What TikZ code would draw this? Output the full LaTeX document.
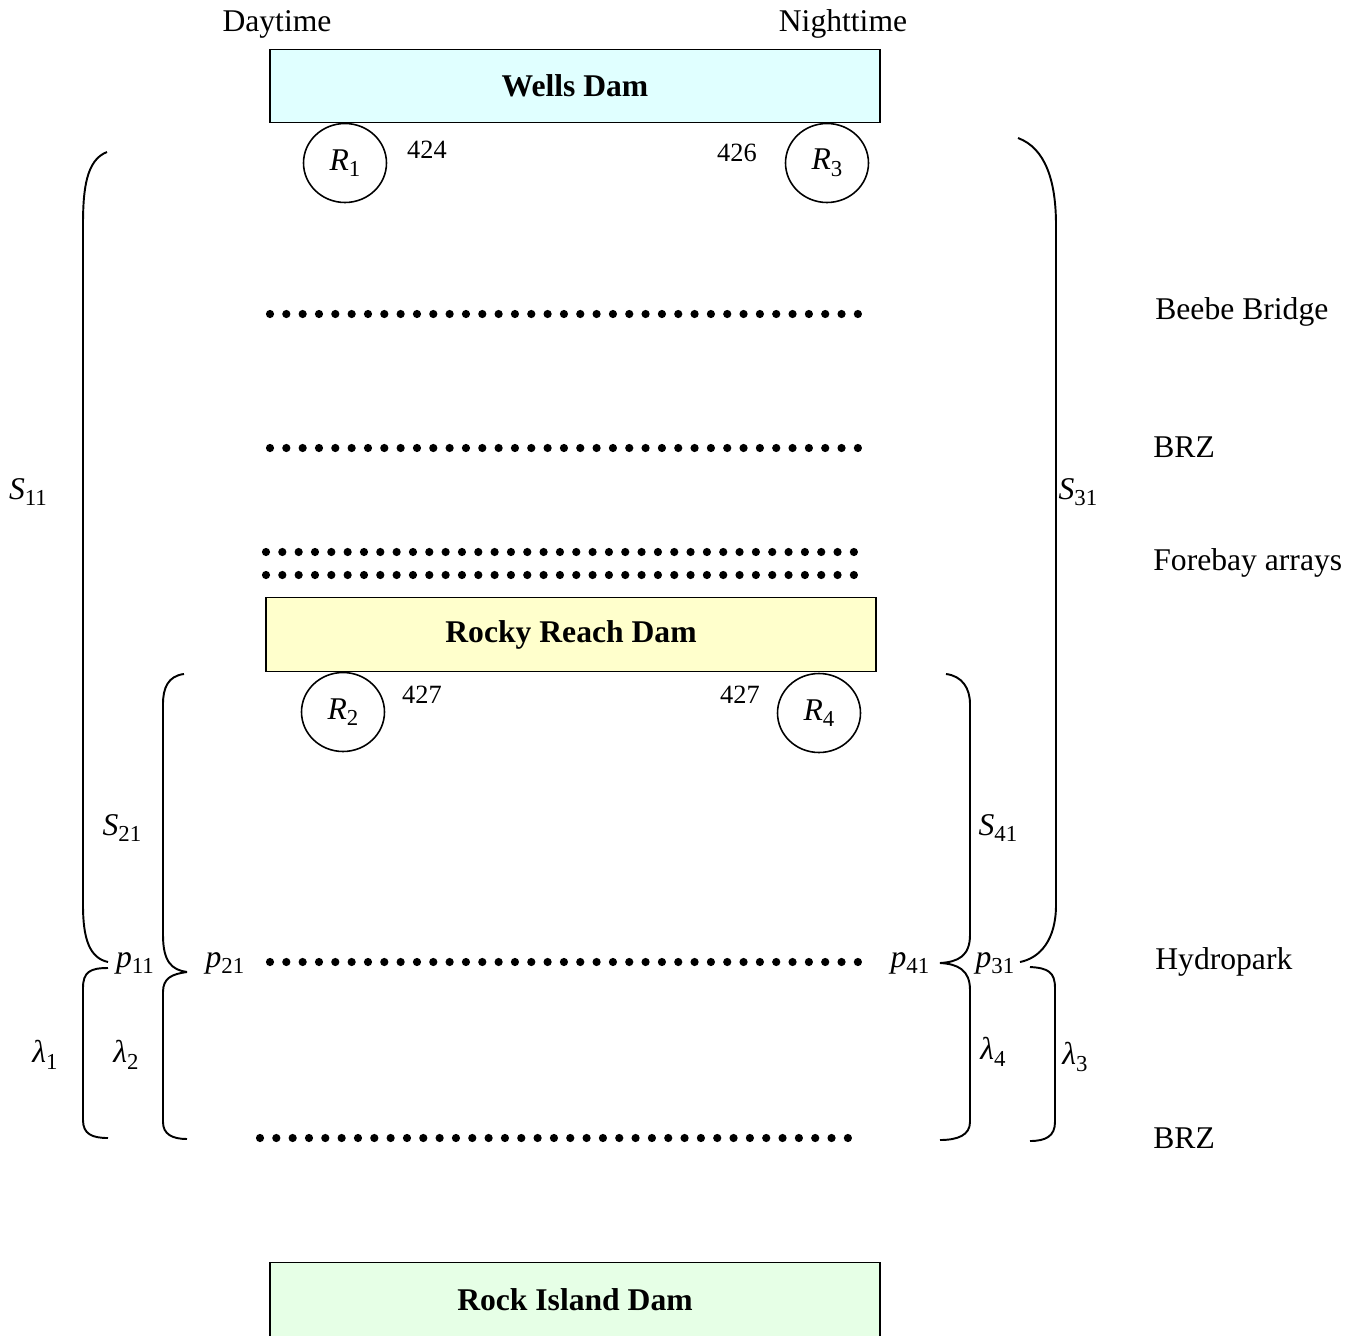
\documentclass[tikz,border=0pt]{standalone}
\usepackage{fontspec}
\setmainfont{Liberation Serif}
\usetikzlibrary{shapes.geometric}

\newcommand{\sym}[2]{\textit{#1}\raisebox{-0.45ex}{\fontsize{13}{15}\selectfont #2}}

\begin{document}
\begin{tikzpicture}[
    x=0.02cm, y=-0.02cm,
    lbl/.style={font=\fontsize{18}{22}\selectfont},
    num/.style={font=\fontsize{15}{18}\selectfont},
    dam/.style={draw, line width=0.8pt, minimum width=12.2cm, minimum height=1.47cm,
        font=\fontsize{18}{22}\selectfont\bfseries},
    recv/.style={draw, ellipse, line width=0.9pt, minimum width=1.66cm, minimum height=1.58cm,
        inner sep=0pt, font=\fontsize{18}{22}\selectfont},
    brk/.style={line width=1.1pt}
]
\useasboundingbox (0,0) rectangle (1360,1336);

% Dams
\node[dam, fill={rgb,255:red,224;green,255;blue,255}] (wells) at (575,86) {Wells Dam};
\node[dam, fill={rgb,255:red,255;green,255;blue,204}] (rocky) at (571,634.5) {Rocky Reach Dam};
\node[dam, fill={rgb,255:red,230;green,255;blue,230}] (rockisland) at (575,1299.5) {Rock Island Dam};

% Day / night headers
\node[lbl] (day) at (277,24) {Daytime};
\node[lbl] (night) at (843,24) {Nighttime};

% Release groups
\node[recv] (r1) at (345,163) {\sym{R}{1}};
\node[recv] (r3) at (827,163) {\sym{R}{3}};
\node[recv] (r2) at (343,712) {\sym{R}{2}};
\node[recv] (r4) at (819,713) {\sym{R}{4}};
\node[num] (n1) at (427,150) {424};
\node[num] (n3) at (737,153) {426};
\node[num] (n2) at (422,695) {427};
\node[num] (n4) at (740,695) {427};

% Detection arrays (rows of dots)
\foreach \y in {314,448,962}
    \foreach \i in {0,...,36}
        \fill (270+\i*16.33,\y) circle (4.1);
\foreach \y in {552,575}
    \foreach \i in {0,...,36}
        \fill (266+\i*16.33,\y) circle (4.1);
\foreach \i in {0,...,36}
    \fill (260+\i*16.33,1138) circle (4.1);

% Array names
\node[lbl, anchor=west, inner sep=0pt] (beebe) at (1155,312) {Beebe Bridge};
\node[lbl, anchor=west, inner sep=0pt] (brz1) at (1153,447) {BRZ};
\node[lbl, anchor=west, inner sep=0pt] (forebay) at (1153,563) {Forebay arrays};
\node[lbl, anchor=west, inner sep=0pt] (hydro) at (1155,962) {Hydropark};
\node[lbl, anchor=west, inner sep=0pt] (brz2) at (1153,1138) {BRZ};

% Left brackets
\draw[brk] (107,152) .. controls (86,160) and (83,190) .. (83,225) -- (83,905)
    .. controls (83,940) and (90,958) .. (108,962);
\draw[brk] (108,968) .. controls (90,968) and (83,972) .. (83,988) -- (83,1120)
    .. controls (83,1134) and (92,1138) .. (108,1138);
\draw[brk] (184,674) .. controls (168,676) and (163,688) .. (163,704) -- (163,935)
    .. controls (163,962) and (172,970) .. (187,972);
\draw[brk] (187,972) .. controls (172,974) and (163,978) .. (163,992) -- (163,1122)
    .. controls (163,1134) and (172,1139) .. (187,1139);

% Right brackets
\draw[brk] (1018,138) .. controls (1045,148) and (1056,180) .. (1056,225) -- (1056,905)
    .. controls (1056,940) and (1040,958) .. (1020,962);
\draw[brk] (1030,967) .. controls (1048,968) and (1055,972) .. (1055,988) -- (1055,1122)
    .. controls (1055,1136) and (1046,1141) .. (1030,1141);
\draw[brk] (946,674) .. controls (962,676) and (970,688) .. (970,704) -- (970,935)
    .. controls (970,956) and (958,962) .. (940,963);
\draw[brk] (940,963) .. controls (958,964) and (970,970) .. (970,990) -- (970,1122)
    .. controls (970,1135) and (958,1140) .. (940,1140);

% Survival, detection and reach labels
\node[lbl] (s11) at (28,492) {\sym{S}{11}};
\node[lbl] (s31) at (1078,492) {\sym{S}{31}};
\node[lbl] (s21) at (122,828) {\sym{S}{21}};
\node[lbl] (s41) at (998,828) {\sym{S}{41}};
\node[lbl] (p11) at (135,963) {\sym{p}{11}};
\node[lbl] (p21) at (225,963) {\sym{p}{21}};
\node[lbl] (p41) at (910,963) {\sym{p}{41}};
\node[lbl] (p31) at (995,963) {\sym{p}{31}};
\node[lbl] (l1) at (45,1055) {\sym{λ}{1}};
\node[lbl] (l2) at (126,1055) {\sym{λ}{2}};
\node[lbl] (l4) at (993,1052) {\sym{λ}{4}};
\node[lbl] (l3) at (1075,1057) {\sym{λ}{3}};

\end{tikzpicture}
\end{document}
